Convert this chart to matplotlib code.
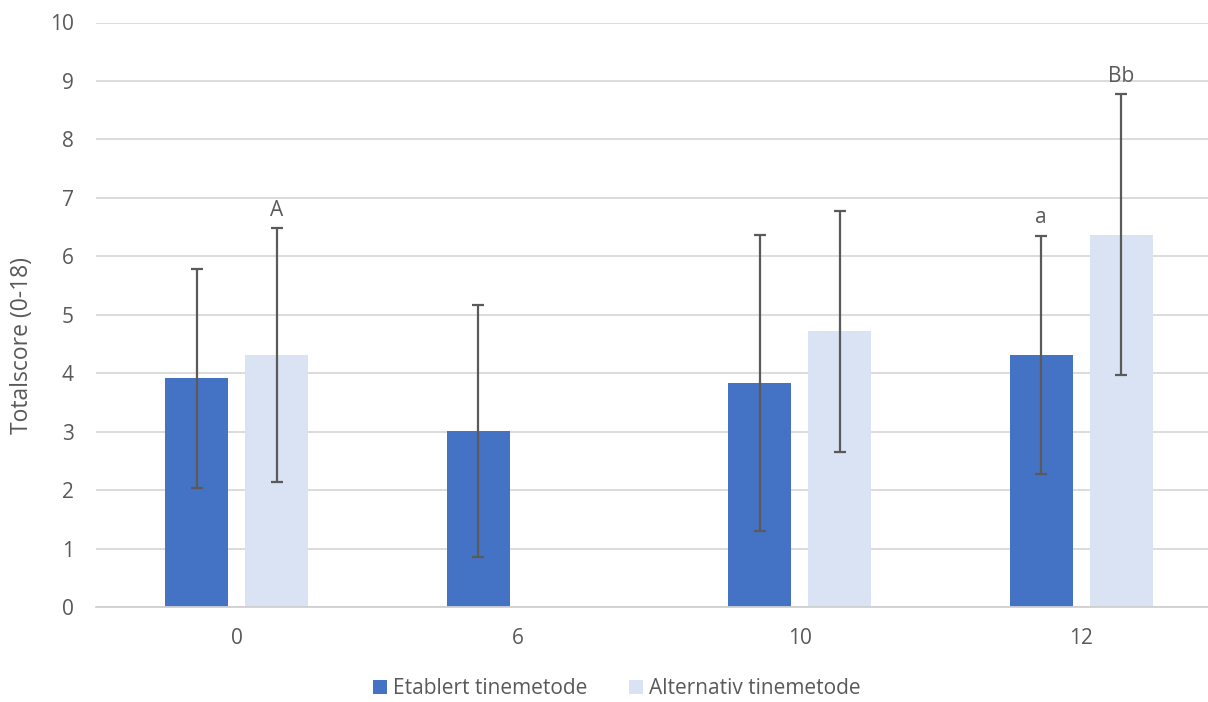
import numpy as np
import matplotlib
matplotlib.use("Agg")
import matplotlib.pyplot as plt
from matplotlib.patches import Patch

plt.rcParams['font.family'] = ['Open Sans', 'DejaVu Sans']

categories = ["0", "6", "10", "12"]
etablert = [3.91, 3.01, 3.83, 4.31]
etablert_err = [1.87, 2.16, 2.53, 2.04]
alternativ = [4.31, np.nan, 4.72, 6.37]
alternativ_err = [2.17, np.nan, 2.06, 2.40]
etablert_labels = ["", "", "", "a"]
alternativ_labels = ["A", "", "", "Bb"]
series_names = ["Etablert tinemetode", "Alternativ tinemetode"]
y_label = "Totalscore (0-18)"

c1 = "#4472C4"
c2 = "#DAE3F3"
txt = "#595959"
grid = "#D9D9D9"

W, H = 1208, 702
fig = plt.figure(figsize=(W / 100, H / 100), dpi=100)
left, right = 96 / W, 1.0
bottom, top = (H - 607) / H, (H - 22.5) / H
ax = fig.add_axes([left, bottom, right - left, top - bottom])

x = np.arange(len(categories))
bw = 0.224
off = 0.142

ax.bar(x - off, etablert, bw, color=c1, zorder=2)
ax.bar(x + off, alternativ, bw, color=c2, zorder=2)
ax.errorbar(x - off, etablert, yerr=etablert_err, fmt='none', ecolor='#5A5A5A',
            elinewidth=1.6, capsize=4.4, capthick=1.6, zorder=3)
ax.errorbar(x + off, alternativ, yerr=alternativ_err, fmt='none', ecolor='#5A5A5A',
            elinewidth=1.6, capsize=4.4, capthick=1.6, zorder=3)

for xi, v, e, lab in zip(x - off, etablert, etablert_err, etablert_labels):
    if lab:
        ax.annotate(lab, (xi, v + e), xytext=(0, 5.5), textcoords='offset points',
                    ha='center', va='bottom', fontsize=15, color=txt)
for xi, v, e, lab in zip(x + off, alternativ, alternativ_err, alternativ_labels):
    if lab:
        ax.annotate(lab, (xi, v + e), xytext=(0, 5.5), textcoords='offset points',
                    ha='center', va='bottom', fontsize=15, color=txt)

ax.set_ylim(0, 10)
ax.set_yticks(range(0, 11))
span = (W - 96) / 281.5
ax.set_xlim(-0.5, -0.5 + span)
ax.set_xticks(x)
ax.set_xticklabels(categories)
ax.tick_params(axis='both', length=0, labelsize=15, colors=txt)
ax.tick_params(axis='x', pad=15)
ax.tick_params(axis='y', pad=16)
ax.grid(axis='y', color=grid, linewidth=1.3, zorder=0)
ax.set_axisbelow(True)
for s in ['top', 'right', 'left']:
    ax.spines[s].set_visible(False)
ax.spines['bottom'].set_color('#D0D0D0')
ax.spines['bottom'].set_linewidth(1.3)

fig.text(22 / W, 1 - 345 / H, y_label, rotation=90, ha='center', va='center',
         fontsize=16.5, color=txt)

handles = [Patch(facecolor=c1, edgecolor='none'), Patch(facecolor=c2, edgecolor='none')]
fig.legend(handles, series_names, loc='center', bbox_to_anchor=(617 / W, 1 - 689 / H),
           ncol=2, frameon=False, fontsize=15, labelcolor=txt,
           handlelength=0.65, handleheight=0.65, handletextpad=0.3, columnspacing=2.0)

fig.savefig("out.png", dpi=100)
